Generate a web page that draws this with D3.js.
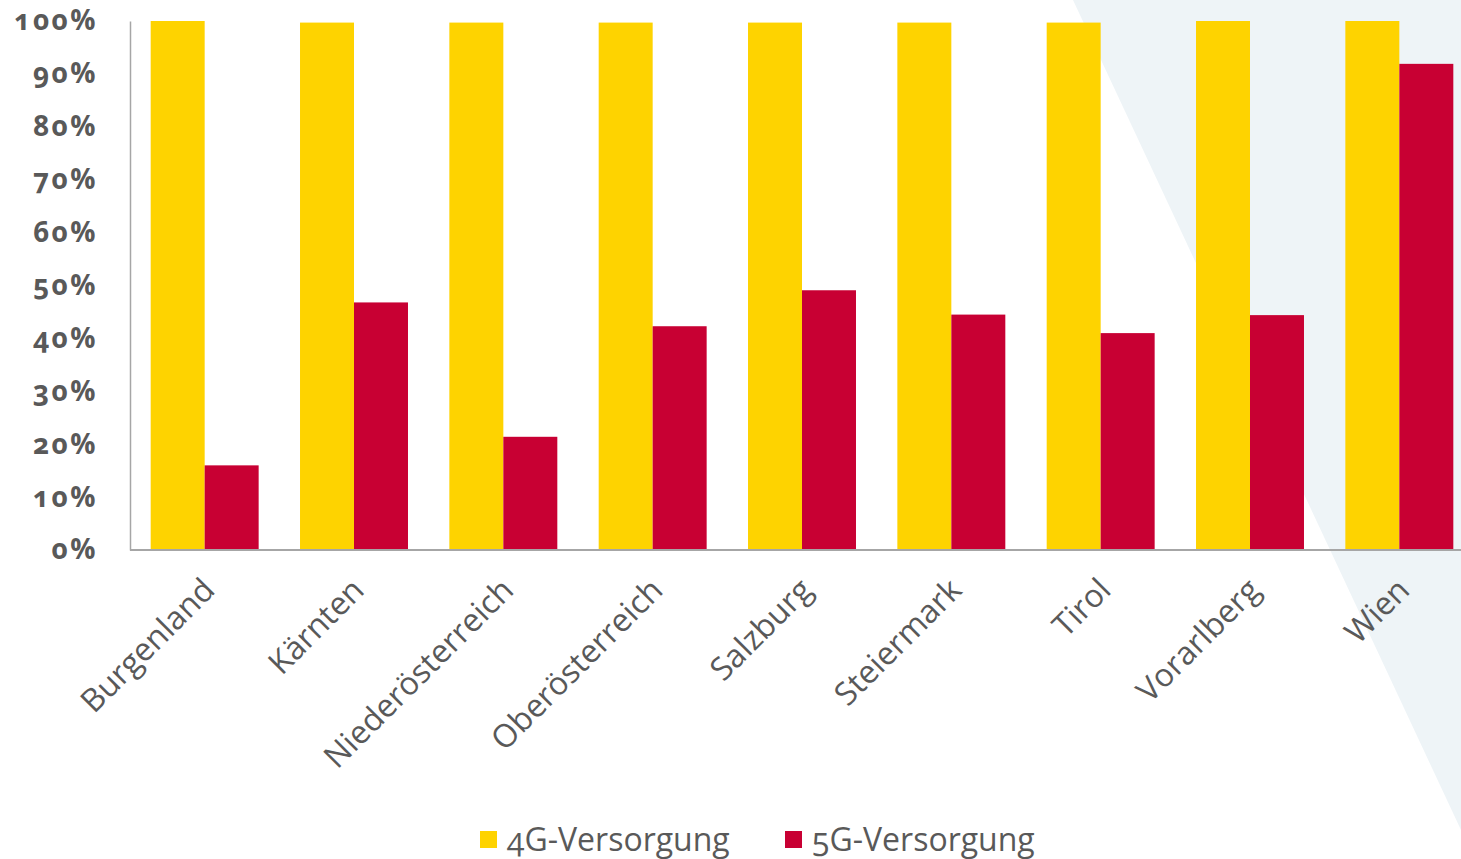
<!DOCTYPE html>
<html>
<head>
<meta charset="utf-8">
<script src="https://cdn.jsdelivr.net/npm/d3@7"></script>
<style>
  html, body { margin: 0; padding: 0; background: #fff; }
  svg { display: block; }
  text { font-family: "Open Sans", "Lato", sans-serif; fill: #595959; }
</style>
</head>
<body>
<svg id="chart" width="1461" height="859"></svg>
<script>
const categories = ["Burgenland", "Kärnten", "Niederösterreich", "Oberösterreich", "Salzburg", "Steiermark", "Tirol", "Vorarlberg", "Wien"];
const seriesNames = ["4G-Versorgung", "5G-Versorgung"];
const values4G = [100, 99.7, 99.7, 99.7, 99.7, 99.7, 99.7, 100, 100];
const values5G = [16.0, 46.8, 21.4, 42.3, 49.1, 44.5, 41.0, 44.4, 91.9];
const yTicks = [0, 10, 20, 30, 40, 50, 60, 70, 80, 90, 100];
const colors = ["#FED300", "#C80033"];

const svg = d3.select("#chart");
const W = 1461, H = 859;
const plotLeft = 130, plotRight = 1474, plotTop = 21, plotBottom = 550;

// decorative backdrop wedge on the right
svg.append("path")
  .attr("d", `M1073,0 L${W},0 L${W},830 Z`)
  .attr("fill", "#EEF4F7");

const x = d3.scaleBand().domain(categories).range([plotLeft, plotRight]).paddingInner(0.277).paddingOuter(0.1385);
const xs = d3.scaleBand().domain(seriesNames).range([0, x.bandwidth()]);
const y = d3.scaleLinear().domain([0, 100]).range([plotBottom, plotTop]);

const rows = categories.map((c, i) => ({ c, v: [values4G[i], values5G[i]] }));

const g = svg.append("g");
g.selectAll("g.cat").data(rows).join("g")
  .attr("class", "cat")
  .attr("transform", d => `translate(${x(d.c)},0)`)
  .selectAll("rect").data(d => d.v.map((v, k) => ({ v, k })))
  .join("rect")
  .attr("x", d => xs(seriesNames[d.k]))
  .attr("width", xs.bandwidth())
  .attr("y", d => y(d.v))
  .attr("height", d => y(0) - y(d.v))
  .attr("fill", d => colors[d.k]);

// y axis
const yAxis = svg.append("g").attr("transform", `translate(${plotLeft},0)`)
  .call(d3.axisLeft(y).tickValues(yTicks).tickSize(0).tickPadding(32).tickFormat(d => d + "%"));
yAxis.select(".domain").attr("stroke", "#A6A6A6").attr("stroke-width", 1.5);
yAxis.selectAll("text")
  .attr("font-size", 28).attr("font-weight", 700)
  .attr("letter-spacing", 2.5)
  .style("font-feature-settings", "'onum' 1")
  .attr("fill", "#595959");

// x axis
const xAxis = svg.append("g").attr("transform", `translate(0,${plotBottom})`)
  .call(d3.axisBottom(x).tickSize(0).tickPadding(0));
xAxis.select(".domain").attr("stroke", "#A6A6A6").attr("stroke-width", 2)
  .attr("d", `M${plotLeft},0H${W}`);
xAxis.selectAll(".tick text")
  .attr("font-size", 32).attr("font-weight", 500)
  .attr("text-anchor", "end")
  .attr("dy", 0)
  .attr("transform", "translate(12,42) rotate(-45)")
  .attr("fill", "#595959");

// legend
const legend = svg.append("g").attr("transform", "translate(480,840)");
const items = [{ name: seriesNames[0], x: 0 }, { name: seriesNames[1], x: 305 }];
items.forEach((it, k) => {
  legend.append("rect").attr("x", it.x).attr("y", -9).attr("width", 17).attr("height", 17).attr("fill", colors[k]);
  legend.append("text").attr("x", it.x + 27).attr("y", 0).attr("dy", "0.35em")
    .attr("font-size", 32).attr("font-weight", 500)
    .style("font-feature-settings", "'onum' 1").text(it.name);
});
</script>
</body>
</html>
